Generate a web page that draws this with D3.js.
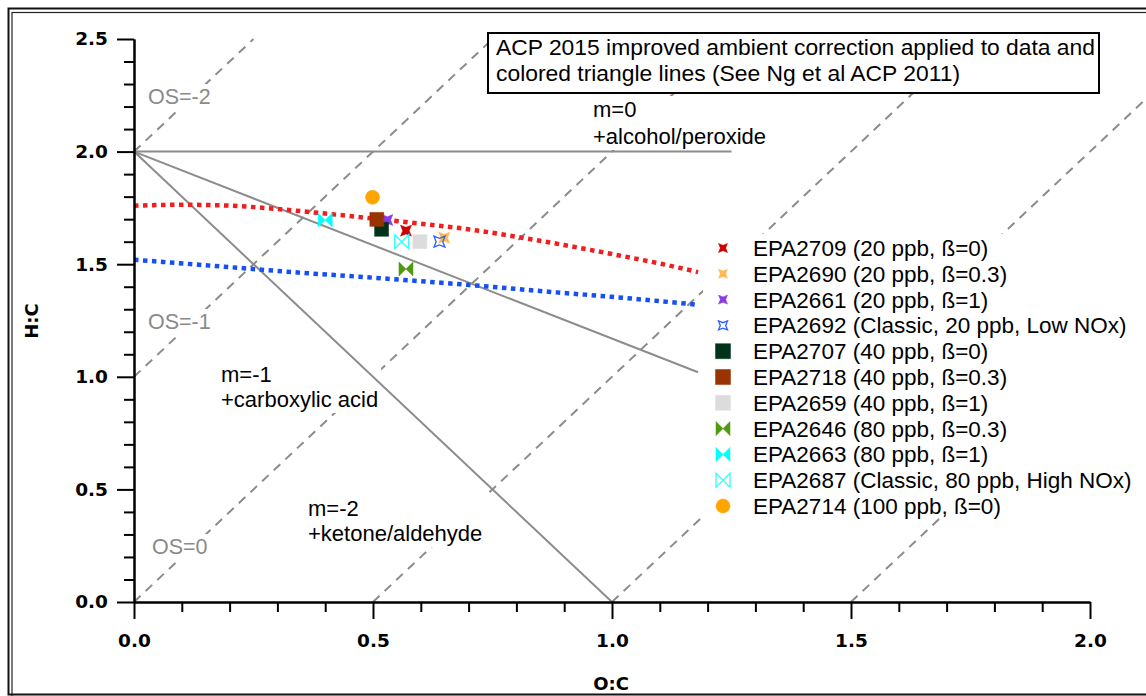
<!DOCTYPE html>
<html>
<head>
<meta charset="utf-8">
<script src="https://cdn.jsdelivr.net/npm/d3@7"></script>
<style>
  body { margin: 0; background: #fff; }
  svg { display: block; }
</style>
</head>
<body>
<div id="chart"></div>
<script>
// samples: [O:C, H:C]
var samples = [
  { name: "EPA2709 (20 ppb, ß=0)", oc: 0.569, hc: 1.649, shape: "star", color: "#cc0000", open: false },
  { name: "EPA2690 (20 ppb, ß=0.3)", oc: 0.649, hc: 1.618, shape: "star", color: "#ffb84d", open: false },
  { name: "EPA2661 (20 ppb, ß=1)", oc: 0.530, hc: 1.696, shape: "star", color: "#8a3ae6", open: false },
  { name: "EPA2692 (Classic, 20 ppb, Low NOx)", oc: 0.639, hc: 1.600, shape: "star", color: "#3060ff", open: true },
  { name: "EPA2707 (40 ppb, ß=0)", oc: 0.518, hc: 1.655, shape: "square", color: "#00331a", open: false },
  { name: "EPA2718 (40 ppb, ß=0.3)", oc: 0.508, hc: 1.699, shape: "square", color: "#993300", open: false },
  { name: "EPA2659 (40 ppb, ß=1)", oc: 0.598, hc: 1.600, shape: "square", color: "#dcdcdc", open: false },
  { name: "EPA2646 (80 ppb, ß=0.3)", oc: 0.569, hc: 1.479, shape: "bowtie", color: "#4f9a0f", open: false },
  { name: "EPA2663 (80 ppb, ß=1)", oc: 0.400, hc: 1.696, shape: "bowtie", color: "#00ffff", open: false },
  { name: "EPA2687 (Classic, 80 ppb, High NOx)", oc: 0.560, hc: 1.600, shape: "bowtie", color: "#33ffff", open: true },
  { name: "EPA2714 (100 ppb, ß=0)", oc: 0.499, hc: 1.797, shape: "circle", color: "#ffa500", open: false }
];

// colored triangle lines (ambient corrected)
var redCurve = [[0, 1.760], [0.1, 1.764], [0.2, 1.760], [0.3, 1.745], [0.4, 1.725], [0.5, 1.703],
  [0.6, 1.680], [0.7, 1.655], [0.8, 1.622], [0.9, 1.585], [1.0, 1.545], [1.1, 1.503], [1.18, 1.465]];
var blueCurve = [[0, 1.520], [0.2, 1.487], [0.35, 1.462], [0.5, 1.440], [0.7, 1.408],
  [0.9, 1.372], [1.0, 1.355], [1.18, 1.320]];

// gray slope lines
var slopeLines = [
  { label: ["m=0", "+alcohol/peroxide"], pts: [[0, 2], [1.25, 2]] },
  { label: ["m=-1", "+carboxylic acid"], pts: [[0, 2], [1.18, 1.02]] },
  { label: ["m=-2", "+ketone/aldehyde"], pts: [[0, 2], [1, 0]] }
];

// oxidation state lines H:C = 2*O:C - OS
var osValues = [-2, -1, 0, 1, 2, 3];
var osLabels = ["OS=-2", "OS=-1", "OS=0"];

var xTicks = [0, 0.5, 1.0, 1.5, 2.0];
var yTicks = [0, 0.5, 1.0, 1.5, 2.0, 2.5];
var noteLines = ["ACP 2015 improved ambient correction applied to data and",
  "colored triangle lines (See Ng et al ACP 2011)"];

var W = 1146, H = 696;
var x = d3.scaleLinear().domain([0, 2]).range([134, 1090]);
var y = d3.scaleLinear().domain([0, 2.5]).range([602, 39]);

var svg = d3.select("#chart").append("svg")
  .attr("width", W).attr("height", H);

// double frame
svg.append("rect").attr("x", 8.5).attr("y", 8.5).attr("width", 1160).attr("height", 686)
  .attr("fill", "none").attr("stroke", "#111").attr("stroke-width", 2);
svg.append("rect").attr("x", 12).attr("y", 12.5).attr("width", 1160).attr("height", 700)
  .attr("fill", "none").attr("stroke", "#222").attr("stroke-width", 1.2);

var line = d3.line()
  .x(function(d) { return x(d[0]); })
  .y(function(d) { return y(d[1]); });

// OS dashed lines
svg.append("g").selectAll("path")
  .data(osValues)
  .enter().append("path")
  .attr("d", function(os) {
    var x0 = Math.max(0, os / 2);
    var x1 = (2.5 + os) / 2;
    return line([[x0, 2 * x0 - os], [x1, 2.5]]);
  })
  .attr("fill", "none")
  .attr("stroke", "#8c8c8c")
  .attr("stroke-width", 2)
  .attr("stroke-dasharray", "9,7");

// label helper: text with white box behind
function boxedText(g, lines, px, py, lh, size, color) {
  var t = g.append("g");
  var bg = t.append("rect").attr("fill", "#fff");
  var txt = t.append("text")
    .attr("font-family", "'Liberation Sans', Arial, sans-serif")
    .attr("font-size", size)
    .attr("fill", color);
  lines.forEach(function(s, i) {
    txt.append("tspan").attr("x", px).attr("y", py + i * lh).text(s);
  });
  var b = txt.node().getBBox();
  bg.attr("x", b.x - 3).attr("y", b.y - 1).attr("width", b.width + 6).attr("height", b.height + 2);
}

var labels = svg.append("g");
boxedText(labels, [osLabels[0]], 148, 104, 0, 21.5, "#8a8a8a");
boxedText(labels, [osLabels[1]], 148, 329, 0, 21.5, "#8a8a8a");
boxedText(labels, [osLabels[2]], 152, 554, 0, 21.5, "#8a8a8a");
boxedText(labels, slopeLines[0].label, 593, 117, 27, 22, "#000");
boxedText(labels, slopeLines[1].label, 221, 382, 25, 22, "#000");
boxedText(labels, slopeLines[2].label, 308, 516, 25, 22, "#000");

// gray solid lines
svg.append("g").selectAll("path")
  .data(slopeLines)
  .enter().append("path")
  .attr("d", function(d) { return line(d.pts); })
  .attr("fill", "none")
  .attr("stroke", "#8c8c8c")
  .attr("stroke-width", 2);

// dotted triangle curves
svg.append("path").datum(redCurve)
  .attr("d", line.curve(d3.curveMonotoneX))
  .attr("fill", "none").attr("stroke", "#f01e1e")
  .attr("stroke-width", 4.5).attr("stroke-dasharray", "4.5,4.5");
svg.append("path").datum(blueCurve)
  .attr("d", line.curve(d3.curveMonotoneX))
  .attr("fill", "none").attr("stroke", "#1450f5")
  .attr("stroke-width", 4.5).attr("stroke-dasharray", "4.5,4.5");
line.curve(d3.curveLinear);

// axes
function styleAxis(g) {
  g.select(".domain").attr("stroke", "#000").attr("stroke-width", 2);
  g.selectAll(".tick line").attr("stroke", "#000").attr("stroke-width", 2);
  g.selectAll("text")
    .attr("font-family", "'DejaVu Sans', Verdana, sans-serif")
    .attr("font-weight", "bold")
    .attr("font-size", 18.5)
    .attr("fill", "#000");
}
var minorX = d3.range(0, 2.0001, 0.1).filter(function(v) { return Math.abs(v * 2 - Math.round(v * 2)) > 1e-6; });
var minorY = d3.range(0, 2.5001, 0.1).filter(function(v) { return Math.abs(v * 2 - Math.round(v * 2)) > 1e-6; });

svg.append("g").attr("transform", "translate(0,602)")
  .call(d3.axisBottom(x).tickValues(minorX).tickSize(10).tickSizeOuter(0).tickFormat(""))
  .call(styleAxis);
svg.append("g").attr("transform", "translate(0,602)")
  .call(d3.axisBottom(x).tickValues(xTicks).tickSize(17).tickSizeOuter(0).tickPadding(15)
    .tickFormat(d3.format(".1f")))
  .call(styleAxis);
svg.append("g").attr("transform", "translate(134,0)")
  .call(d3.axisLeft(y).tickValues(minorY).tickSize(10).tickSizeOuter(0).tickFormat(""))
  .call(styleAxis);
svg.append("g").attr("transform", "translate(134,0)")
  .call(d3.axisLeft(y).tickValues(yTicks).tickSize(17).tickSizeOuter(0).tickPadding(9)
    .tickFormat(d3.format(".1f")))
  .call(styleAxis);

// axis titles
svg.append("text").attr("x", 611).attr("y", 690)
  .attr("text-anchor", "middle")
  .attr("font-family", "'DejaVu Sans', Verdana, sans-serif")
  .attr("font-weight", "bold").attr("font-size", 18)
  .text("O:C");
svg.append("text")
  .attr("transform", "translate(38,321) rotate(-90)")
  .attr("text-anchor", "middle")
  .attr("font-family", "'DejaVu Sans', Verdana, sans-serif")
  .attr("font-weight", "bold").attr("font-size", 18)
  .text("H:C");

// marker shapes
function markerPath(shape, s) {
  if (shape === "star") {
    var h = s * 0.6;
    return "M" + (-s) + "," + (-s) + "L0," + (-h) + "L" + s + "," + (-s) + "L" + h + ",0L" + s + "," + s +
      "L0," + h + "L" + (-s) + "," + s + "L" + (-h) + ",0Z";
  }
  if (shape === "square") {
    return "M" + (-s) + "," + (-s) + "H" + s + "V" + s + "H" + (-s) + "Z";
  }
  if (shape === "bowtie") {
    return "M" + (-s) + "," + (-s) + "L" + s + "," + s + "L" + s + "," + (-s) + "L" + (-s) + "," + s + "Z";
  }
  return d3.symbol().type(d3.symbolCircle).size(Math.PI * s * s)();
}
var dataSize = { star: 5.5, square: 7, bowtie: 7, circle: 7 };
var legendSize = { star: 4.5, square: 7.5, bowtie: 7, circle: 7 };

function drawMarker(sel, sizes) {
  sel.append("path")
    .attr("d", function(d) { return markerPath(d.shape, sizes[d.shape]); })
    .attr("fill", function(d) { return d.open ? "#fff" : d.color; })
    .attr("fill-opacity", function(d) { return d.open ? 0 : 1; })
    .attr("stroke", function(d) { return d.color; })
    .attr("stroke-width", function(d) { return d.open ? 1.3 : 0.5; });
}

svg.append("g").selectAll("g")
  .data(samples)
  .enter().append("g")
  .attr("transform", function(d) { return "translate(" + x(d.oc) + "," + y(d.hc) + ")"; })
  .call(drawMarker, dataSize);

// legend
var legend = svg.append("g");
legend.append("rect").attr("x", 703).attr("y", 234).attr("width", 460).attr("height", 283)
  .attr("fill", "#fff");
var rows = legend.selectAll("g.row")
  .data(samples)
  .enter().append("g")
  .attr("class", "row")
  .attr("transform", function(d, i) { return "translate(723," + (248 + i * 25.8) + ")"; });
rows.call(drawMarker, legendSize);
rows.append("text")
  .attr("x", 30).attr("y", 8)
  .attr("font-family", "'Liberation Sans', Arial, sans-serif")
  .attr("font-size", 22.5)
  .text(function(d) { return d.name; });

// note box
var note = svg.append("g");
note.append("rect").attr("x", 488).attr("y", 33).attr("width", 611).attr("height", 60)
  .attr("fill", "#fff").attr("stroke", "#000").attr("stroke-width", 2);
note.selectAll("text")
  .data(noteLines)
  .enter().append("text")
  .attr("x", 496)
  .attr("y", function(d, i) { return 55 + i * 26; })
  .attr("font-family", "'Liberation Sans', Arial, sans-serif")
  .attr("font-size", 22.5)
  .attr("textLength", function(d, i) { return i === 0 ? 599 : 464; })
  .attr("lengthAdjust", "spacingAndGlyphs")
  .text(function(d) { return d; });
</script>
</body>
</html>
